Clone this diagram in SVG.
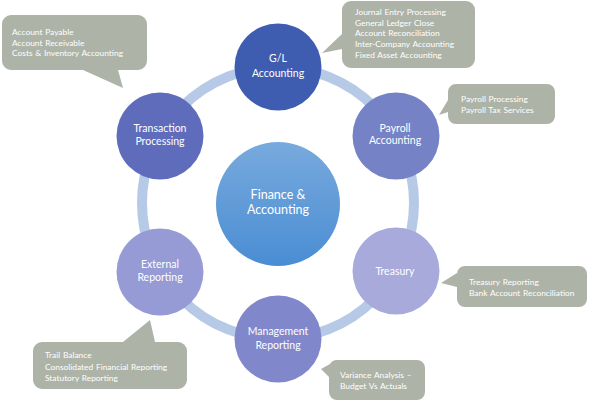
<svg xmlns="http://www.w3.org/2000/svg" width="592" height="401" viewBox="0 0 592 401">
<defs>
<linearGradient id="gCenter" x1="0" y1="0" x2="0" y2="1">
<stop offset="0" stop-color="#78aadd"/>
<stop offset="1" stop-color="#4a8dd3"/>
</linearGradient>
</defs>
<style>
.node text{font-family:Lato,"Liberation Sans",sans-serif;font-size:10.5px;fill:#fff;text-anchor:middle}
.center text{font-size:12.5px}
.callout path{fill:#aeb3a8}
.callout text{font-family:Lato,"Liberation Sans",sans-serif;font-size:8.4px;fill:#fff;word-spacing:0.6px}
</style>
<rect width="592" height="401" fill="#fff"/>
<g id="connectors">
<circle cx="278" cy="203" r="136" fill="none" stroke="#b6c9e7" stroke-width="10"/>
</g>
<g id="center" class="node center">
<circle cx="278" cy="204" r="62" fill="url(#gCenter)"/>
<text x="278" y="199">Finance &amp;</text>
<text x="278" y="214">Accounting</text>
</g>
<g id="gl" class="node">
<circle cx="278" cy="67" r="43.5" fill="#3e5db0"/>
<text x="278" y="62">G/L</text>
<text x="278" y="77">Accounting</text>
</g>
<g id="transaction" class="node">
<circle cx="160" cy="136" r="43.5" fill="#5e6cbb"/>
<text x="160" y="132">Transaction</text>
<text x="160" y="145">Processing</text>
</g>
<g id="payroll" class="node">
<circle cx="396" cy="136" r="43.5" fill="#7682c6"/>
<text x="395" y="132">Payroll</text>
<text x="395" y="144">Accounting</text>
</g>
<g id="treasury" class="node">
<circle cx="396" cy="271" r="43.5" fill="#a8aadc"/>
<text x="395" y="275">Treasury</text>
</g>
<g id="management" class="node">
<circle cx="278" cy="339" r="43.5" fill="#8187cb"/>
<text x="278" y="335">Management</text>
<text x="278" y="349">Reporting</text>
</g>
<g id="external" class="node">
<circle cx="160" cy="272" r="43.5" fill="#969ad5"/>
<text x="160" y="268">External</text>
<text x="160" y="281">Reporting</text>
</g>
<g id="callout-transaction" class="callout">
<path d="M11,15 H138 A9,9 0 0 1 147,24 V61 A9,9 0 0 1 138,70 H118 L123,88 L83,70 H11 A9,9 0 0 1 2,61 V24 A9,9 0 0 1 11,15 Z"/>
<text x="12" y="35">Account Payable</text>
<text x="12" y="45.5">Account Receivable</text>
<text x="12" y="56">Costs &amp; Inventory  Accounting</text>
</g>
<g id="callout-gl" class="callout">
<path d="M351,1 H466 A9,9 0 0 1 475,10 V59 A9,9 0 0 1 466,68 H351 A9,9 0 0 1 342,59 V49 L322,53 L342,34 V10 A9,9 0 0 1 351,1 Z"/>
<text x="355" y="15">Journal Entry Processing</text>
<text x="355" y="25.7">General  Ledger  Close</text>
<text x="355" y="36.4">Account Reconciliation</text>
<text x="355" y="47.1">Inter-Company  Accounting</text>
<text x="355" y="57.8">Fixed Asset Accounting</text>
</g>
<g id="callout-payroll" class="callout">
<path d="M456,84 H547 A8,8 0 0 1 555,92 V116 A8,8 0 0 1 547,124 H456 A8,8 0 0 1 448,116 V112 L439,115 L448,100 V92 A8,8 0 0 1 456,84 Z"/>
<text x="461" y="102">Payroll Processing</text>
<text x="461" y="113">Payroll Tax Services</text>
</g>
<g id="callout-treasury" class="callout">
<path d="M465,266 H579 A8,8 0 0 1 587,274 V299 A8,8 0 0 1 579,307 H465 A8,8 0 0 1 457,299 V287 L441,283 L457,273 V274 A8,8 0 0 1 465,266 Z"/>
<text x="469" y="285">Treasury  Reporting</text>
<text x="469" y="295.7">Bank Account Reconciliation</text>
</g>
<g id="callout-management" class="callout">
<path d="M337,360 H417 A8,8 0 0 1 425,368 V392 A8,8 0 0 1 417,400 H337 A8,8 0 0 1 329,392 V377 L321,369 L330,364 A8,8 0 0 1 337,360 Z"/>
<text x="340" y="378">Variance  Analysis –</text>
<text x="340" y="389">Budget Vs Actuals</text>
</g>
<g id="callout-external" class="callout">
<path d="M42,342 H123 L150,320 L155,342 H178 A9,9 0 0 1 187,351 V380 A9,9 0 0 1 178,389 H42 A9,9 0 0 1 33,380 V351 A9,9 0 0 1 42,342 Z"/>
<text x="45" y="358">Trail  Balance</text>
<text x="45" y="369.5">Consolidated Financial  Reporting</text>
<text x="45" y="381">Statutory  Reporting</text>
</g>
</svg>
